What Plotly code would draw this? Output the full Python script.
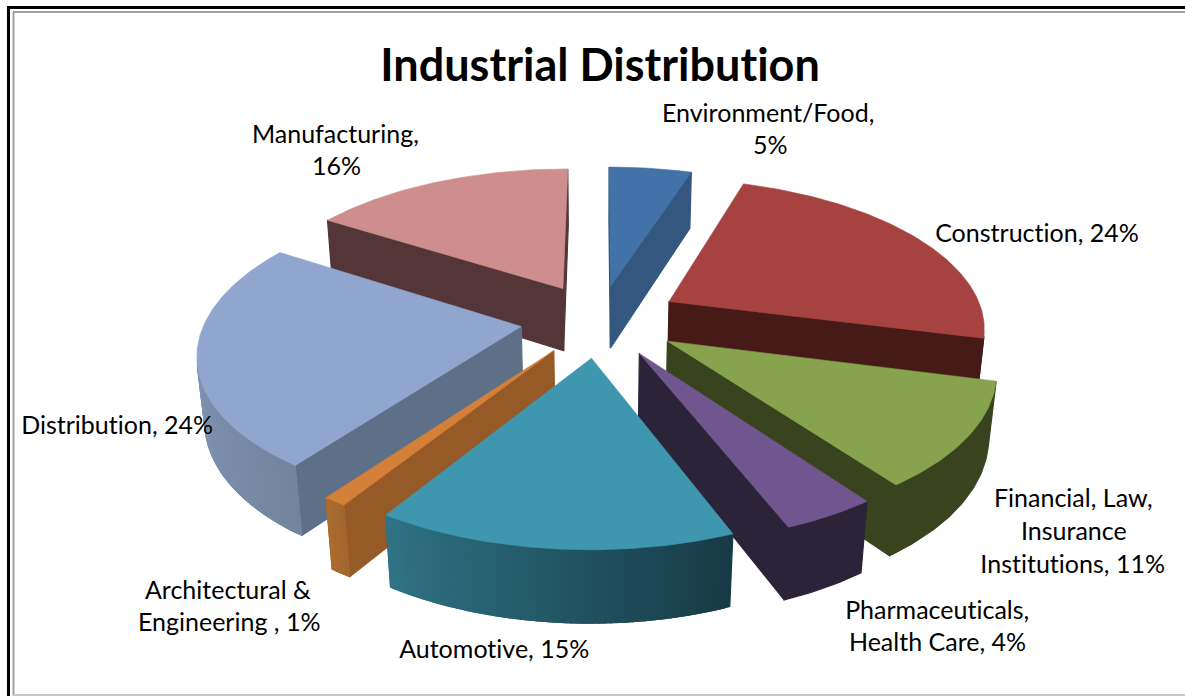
import numpy as np
import plotly.graph_objects as go

# Chart data, clockwise from twelve o'clock
categories = ["Environment/Food", "Construction", "Financial, Law, Insurance Institutions",
              "Pharmaceuticals, Health Care", "Automotive", "Architectural & Engineering",
              "Distribution", "Manufacturing"]
shares = [5, 24, 11, 4, 15, 1, 24, 16]

# Slice appearance
top_colors = ["#4372a8", "#a64341", "#87a34e", "#70568e", "#3e97af", "#d58038", "#91a6cf", "#ce8e8e"]
wall_colors = ["#33577f", "#451a17", "#39431e", "#2b2338", "#173a45", "#955a28", "#5e6f88", "#543638"]
rim_start_colors = ["#33577f", "#451a17", "#39431e", "#2b2338", "#173a45", "#a2652c", "#72859f", "#543638"]
rim_end_colors = ["#33577f", "#451a17", "#39431e", "#2b2338", "#2f7386", "#ab6c2f", "#8fa3c8", "#543638"]
explosion = [0.237, 0.257, 0.255, 0.254, 0.253, 0.248, 0.250, 0.247]
draw_order = [0, 7, 1, 6, 2, 5, 3, 4]

# Text placed as (line, centre x, centre y) in pixels
title_text = "Industrial Distribution"
label_lines = [
    ("Environment/Food,", 768, 112), ("5%", 770, 144),
    ("Construction, 24%", 1037, 232),
    ("Financial, Law,", 1073, 497), ("Insurance", 1074, 530), ("Institutions, 11%", 1072, 563),
    ("Pharmaceuticals,", 937, 609), ("Health Care, 4%", 937, 641),
    ("Automotive, 15%", 494, 648),
    ("Architectural &", 228, 589), ("Engineering , 1%", 229, 621),
    ("Distribution, 24%", 117, 424),
    ("Manufacturing,", 335, 133), ("16%", 336, 165),
]

# Viewing model of the 3D pie
CX, CY, FOCAL, DIST, TILT, THICK = 599.3, 319.5, 1767.6, 5.60, 0.4865, 0.232
WIDTH, HEIGHT = 1185, 696


def project(x, y, z):
    up = y * np.sin(TILT) + z * np.cos(TILT)
    depth = DIST + y * np.cos(TILT) - z * np.sin(TILT)
    return CX + FOCAL * x / depth, CY - FOCAL * up / depth


def mix(c0, c1, t):
    a = [int(c0[i:i + 2], 16) for i in (1, 3, 5)]
    b = [int(c1[i:i + 2], 16) for i in (1, 3, 5)]
    return "rgb({},{},{})".format(*[round(u + (v - u) * t) for u, v in zip(a, b)])


def polygon(points, color, edge=0.6):
    xs = [p[0] for p in points] + [points[0][0]]
    ys = [p[1] for p in points] + [points[0][1]]
    return go.Scatter(x=xs, y=ys, mode="lines", fill="toself", fillcolor=color,
                      line=dict(color=color, width=edge), hoverinfo="skip", showlegend=False)


def faces_viewer(a, b):
    pts = [project(a[0], a[1], 0), project(b[0], b[1], 0),
           project(b[0], b[1], -THICK), project(a[0], a[1], -THICK)]
    return sum(pts[i][0] * pts[(i + 1) % 4][1] - pts[(i + 1) % 4][0] * pts[i][1] for i in range(4)) < 0


def wall(path, color):
    """Side band hanging under a top-edge path."""
    upper = [project(px, py, 0) for px, py in path]
    lower = [project(px, py, -THICK) for px, py in reversed(path)]
    return polygon(upper + lower, color, edge=1.2)


edges = np.radians(np.concatenate([[0], np.cumsum(shares)]) * 3.6)
fig = go.Figure()

for s in draw_order:
    a0, a1 = edges[s], edges[s + 1]
    mid = (a0 + a1) / 2
    ox, oy = explosion[s] * np.sin(mid), explosion[s] * np.cos(mid)
    steps = max(4, int(np.degrees(a1 - a0) * 1.2))
    thetas = np.linspace(a0, a1, steps + 1)
    rim = [(ox + np.sin(t), oy + np.cos(t)) for t in thetas]
    apex = (ox, oy)

    if faces_viewer(apex, rim[0]):
        fig.add_trace(wall([apex, rim[0]], wall_colors[s]))
    if faces_viewer(rim[-1], apex):
        fig.add_trace(wall([rim[-1], apex], wall_colors[s]))

    # Rim shading: neighbouring bands overlap so no seams show between them
    visible = [i for i in range(steps) if faces_viewer(rim[i], rim[i + 1])]
    if visible:
        first, last = visible[0], visible[-1] + 1
        if rim_start_colors[s] == rim_end_colors[s]:
            fig.add_trace(wall(rim[first:last + 1], rim_start_colors[s]))
        else:
            for i in visible:
                shade = mix(rim_start_colors[s], rim_end_colors[s], (i + 0.5) / steps)
                fig.add_trace(wall(rim[i:min(i + 3, last + 1)], shade))

    fig.add_trace(polygon([project(px, py, 0) for px, py in [apex] + rim], top_colors[s]))

annotations = [dict(text=title_text, x=600, y=64, xref="x", yref="y", showarrow=False,
                    font=dict(family="Lato", size=45, color="#000000", weight=700))]
for line, x, y in label_lines:
    annotations.append(dict(text=line, x=x, y=y, xref="x", yref="y", showarrow=False,
                            font=dict(family="Lato", size=25, color="#000000")))

frame = [
    (8.5, 7, 8.5, HEIGHT, "#000000", 3), (7, 7.5, WIDTH, 7.5, "#000000", 3),
    (13.5, 12, 13.5, HEIGHT, "#a0a0a0", 2), (13, 12, WIDTH, 12, "#a0a0a0", 2),
    (13, 695, WIDTH, 695, "#c8c8c8", 2),
]
shapes = [dict(type="line", xref="x", yref="y", x0=a, y0=b, x1=c, y1=d, line=dict(color=col, width=w))
          for a, b, c, d, col, w in frame]

fig.update_layout(
    width=WIDTH, height=HEIGHT, margin=dict(l=0, r=0, t=0, b=0),
    paper_bgcolor="#ffffff", plot_bgcolor="#ffffff", showlegend=False,
    xaxis=dict(range=[0, WIDTH], visible=False, fixedrange=True),
    yaxis=dict(range=[HEIGHT, 0], visible=False, fixedrange=True),
    annotations=annotations, shapes=shapes,
)

# Lato's "ti" ligature is switched off so words keep separate letters
no_ligatures = ("var s=document.createElement('style');"
                "s.textContent='svg text{font-variant-ligatures:none !important;"
                "font-feature-settings:\"liga\" 0,\"clig\" 0 !important;"
                "letter-spacing:0.01px !important}';"
                "document.head.appendChild(s);")
fig.write_html("out.html", config={"displayModeBar": False}, post_script=no_ligatures)
